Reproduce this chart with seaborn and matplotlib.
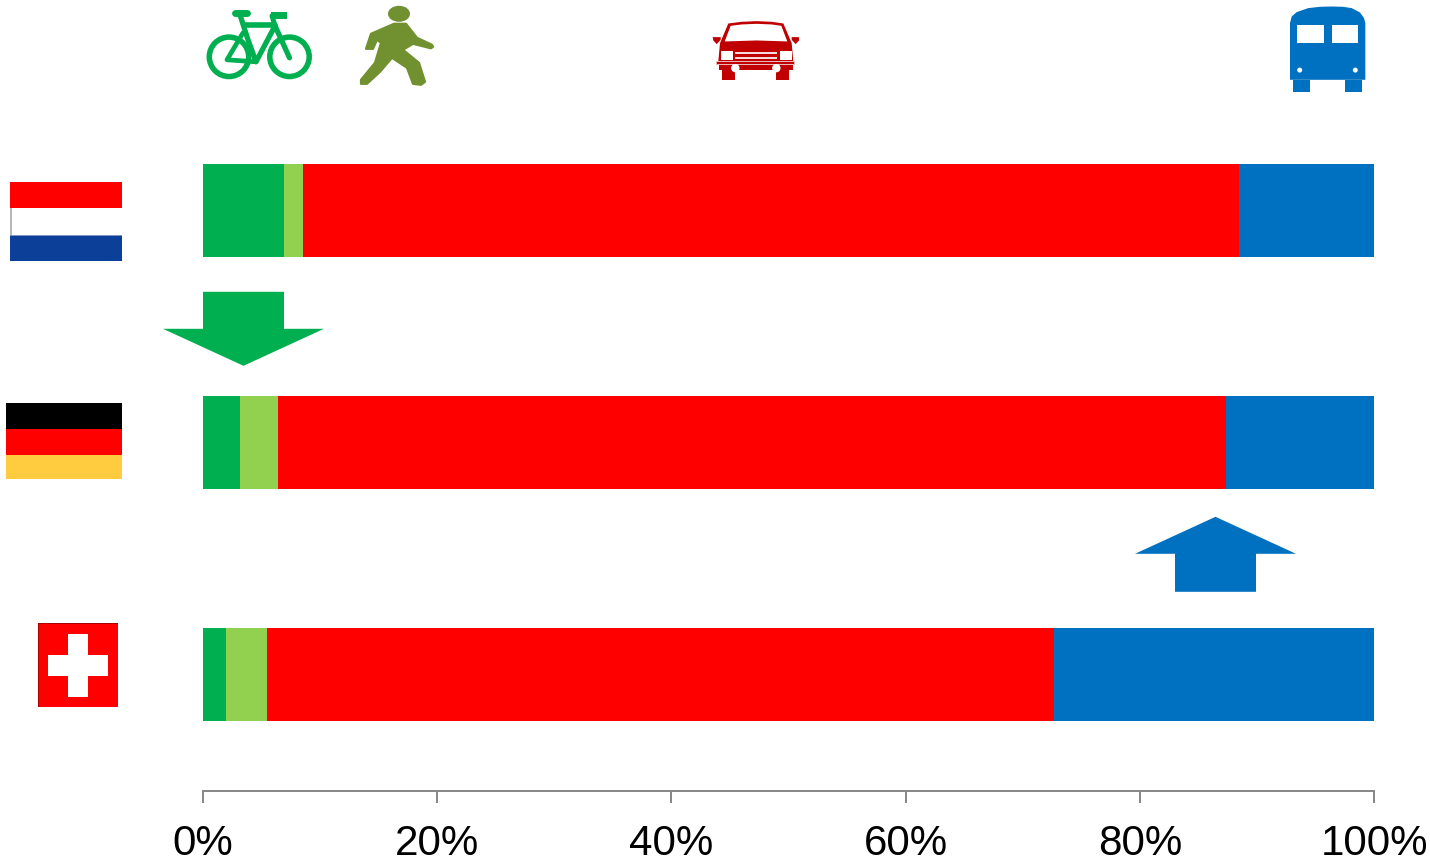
import numpy as np
import pandas as pd
import seaborn as sns
import matplotlib
matplotlib.use("Agg")
import matplotlib.pyplot as plt
from matplotlib.patches import Polygon, Rectangle, Circle, Ellipse

# Modal share of trips by country (percent)
countries = ["Netherlands", "Germany", "Switzerland"]
modes = ["Bicycle", "Walking", "Car", "Public transport"]
bicycle = [6.9, 3.2, 2.0]
walking = [1.6, 3.2, 3.5]
car = [80.0, 81.0, 67.2]
transit = [11.5, 12.6, 27.3]
tick_values = [0, 20, 40, 60, 80, 100]
tick_labels = ["0%", "20%", "40%", "60%", "80%", "100%"]

GREEN, LIGHT, RED, BLUE = "#00B050", "#92D050", "#FF0000", "#0070C0"
WALKER, CAR_RED, GREY = "#71902F", "#C00000", "#868686"
W, H = 1430, 862
SHIFT = 0.8

sns.set_theme(style="white")
plt.rcParams["font.family"] = ["Liberation Sans", "DejaVu Sans"]

fig = plt.figure(figsize=(W / 100, H / 100), dpi=100, facecolor="white")

# Main axes: 0-100 % across, one row per country
ax = fig.add_axes([203 / W, 1 - (791 + SHIFT) / H, (1374 - 203) / W, 791 / H])
shares = pd.DataFrame(
    {"country": countries, "Bicycle": bicycle, "Walking": walking,
     "Car": car, "Public transport": transit}
)
left = np.zeros(len(countries))
for mode, colour in zip(modes, [GREEN, LIGHT, RED, BLUE]):
    sns.barplot(data=shares, y="country", x=mode, color=colour, left=left,
                width=0.4, saturation=1, linewidth=0, ax=ax, zorder=2)
    left = left + shares[mode].to_numpy()

ax.set_xlim(0, 100)
ax.set_ylim(580 / 232, -211 / 232)
ax.set_xlabel("")
ax.set_ylabel("")
ax.set_yticks([])
ax.set_xticks(tick_values)
ax.set_xticklabels(tick_labels, fontsize=30.3, color="black")
ax.tick_params(axis="x", bottom=True, length=8.6, width=1.4, color=GREY, pad=14.5)
sns.despine(ax=ax, left=True, top=True, right=True)
ax.spines["bottom"].set_color(GREY)
ax.spines["bottom"].set_linewidth(1.4)
ax.patch.set_alpha(0)

# Overlay in pixel units for the pictograms, flags and arrows
ov = fig.add_axes([0, 0, 1, 1], zorder=5)
ov.set_xlim(0, W)
ov.set_ylim(H - SHIFT, -SHIFT)
ov.axis("off")


def rect(x0, y0, x1, y1, c):
    ov.add_patch(Rectangle((x0, y0), x1 - x0, y1 - y0, fc=c, ec="none"))


def poly(pts, c, edge=0.0):
    ov.add_patch(Polygon(pts, closed=True, fc=c, ec=c if edge else "none",
                         lw=edge, joinstyle="round"))


def stroke(xs, ys, c, lw):
    ov.plot(xs, ys, color=c, lw=lw, solid_capstyle="round", solid_joinstyle="round")


# Direction arrows
poly([(203, 292), (284, 292), (284, 329), (324, 329), (243.5, 366), (163, 329), (203, 329)], GREEN)
poly([(1175, 592), (1256, 592), (1256, 554), (1296, 554), (1215.5, 517), (1135, 554), (1175, 554)], BLUE)

# Dutch flag
rect(10, 182, 122, 208, "#FF0000")
rect(10, 208, 122, 236, "white")
rect(10, 208, 11.5, 236, "#B8B8B8")
rect(10, 235, 122, 237, "#7F93BF")
rect(10, 236.5, 122, 261, "#0C4098")

# German flag
rect(6, 403, 122, 429, "black")
rect(6, 429, 122, 455, "#FF0000")
rect(6, 455, 122, 479, "#FFCC40")

# Swiss flag
rect(38, 623, 118, 707, "#FF0000")
rect(38, 623, 118, 624, "#A80000")
rect(38, 623, 39, 707, "#A80000")
rect(68, 634, 88, 697, "white")
rect(48, 655, 108, 676, "white")

# Bicycle pictogram
for cx in (229, 289.5):
    ov.add_patch(Circle((cx, 57), 19.7, fc="none", ec=GREEN, lw=4.0))
stroke([235, 247], [13.5, 13.5], GREEN, 5.0)
stroke([240, 248, 256, 275, 289.5], [15, 40, 62, 26, 58], GREEN, 3.8)
stroke([246, 275], [25, 25], GREEN, 4.0)
stroke([243, 227, 256], [33, 60, 62], GREEN, 3.4)
stroke([275, 272], [26, 16], GREEN, 3.6)
rect(271, 12.5, 287, 19, GREEN)

# Walking figure
ov.add_patch(Ellipse((399, 14), 22, 16, fc=WALKER, ec="none"))
poly([(394, 24), (406, 24), (417, 38), (432, 45), (433, 47), (431, 48.5), (413, 44),
      (403, 50), (419, 63), (425, 82), (421, 85), (413, 84), (407, 68), (392, 58),
      (380, 72), (367, 84), (361, 84), (361, 80), (375, 63), (381, 43), (377, 40),
      (373, 49), (366, 49), (371, 34)], WALKER, edge=1.6)


# Car pictogram, front view
def car_xy(pts):
    return [(700 + x / 3, 10 + y / 3) for x, y in pts]


poly(car_xy([(85, 41), (125, 36), (170, 34), (215, 36), (250, 41), (275, 100), (280, 155),
             (55, 155), (60, 100)]), CAR_RED)
poly(car_xy([(74, 95), (92, 48), (125, 44), (170, 42), (215, 44), (244, 48), (262, 95), (170, 92)]), "white")
poly(car_xy([(38, 82), (62, 82), (62, 90), (50, 103), (40, 92)]), CAR_RED)
poly(car_xy([(297, 82), (275, 82), (275, 90), (287, 103), (297, 92)]), CAR_RED)
poly(car_xy([(62, 125), (98, 125), (98, 150), (62, 150)]), "white")
poly(car_xy([(240, 125), (275, 125), (275, 150), (240, 150)]), "white")
poly(car_xy([(106, 127), (230, 127), (230, 133), (106, 133)]), "#F6DADA")
poly(car_xy([(106, 141), (230, 141), (230, 149), (106, 149)]), "#F6DADA")
poly(car_xy([(49, 154), (286, 154), (286, 167), (49, 167)]), "#EBB8B8")
poly(car_xy([(52, 157), (283, 157), (283, 164), (52, 164)]), CAR_RED)
poly(car_xy([(58, 167), (278, 167), (278, 180), (58, 180)]), CAR_RED)
poly(car_xy([(67, 178), (106, 178), (106, 212), (67, 212)]), CAR_RED)
poly(car_xy([(229, 178), (268, 178), (268, 212), (229, 212)]), CAR_RED)
for x in (106, 229):
    ov.add_patch(Circle((700 + x / 3, 10 + 175 / 3), 4.2, fc="white", ec="none"))

# Bus pictogram, front view
bus_top = [(1290, 80), (1290, 23.3), (1291.7, 16.7), (1296.7, 12.3), (1308.3, 8.3), (1320, 7),
           (1331.7, 6.7), (1343, 7), (1351.7, 8.3), (1360, 12.7), (1364, 18.3), (1365.3, 23.3), (1365.3, 80)]
poly(bus_top, BLUE)
rect(1293, 80, 1310, 92, BLUE)
rect(1345, 80, 1362, 92, BLUE)
rect(1297, 25.5, 1323.5, 43.5, "white")
rect(1332, 25.5, 1358, 43.5, "white")
for x in (1299.7, 1355.3):
    ov.add_patch(Circle((x, 70.3), 2.5, fc="white", ec="none"))

fig.savefig("out.png", dpi=100, facecolor="white")
